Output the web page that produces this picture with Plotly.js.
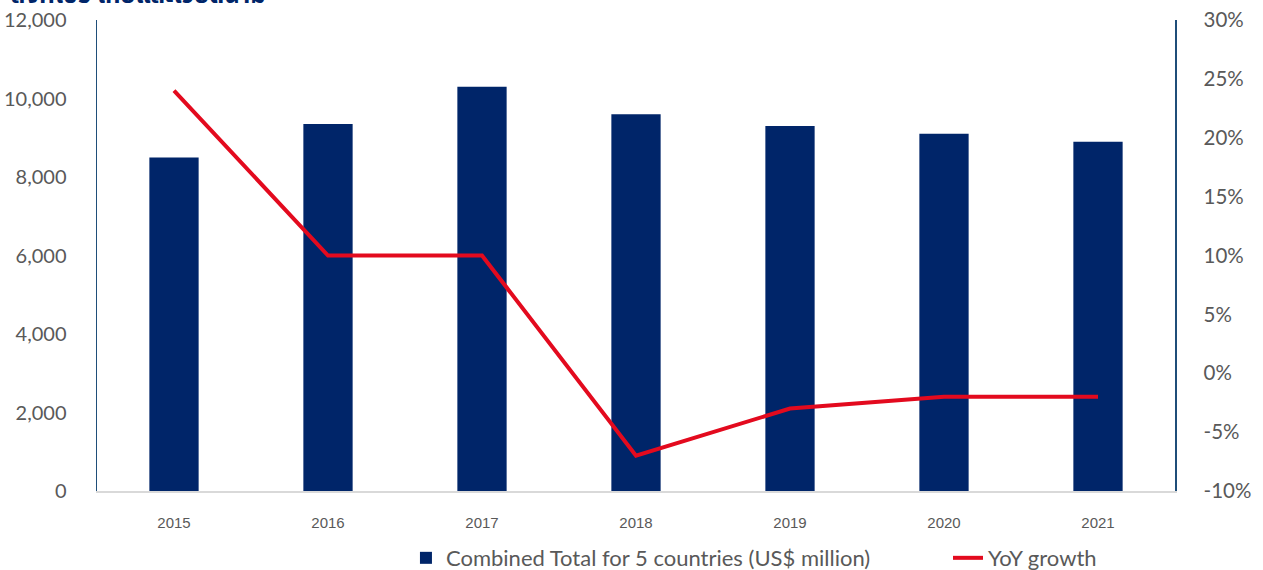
<!DOCTYPE html>
<html>
<head>
<meta charset="utf-8">
<script src="https://cdn.plot.ly/plotly-3.0.1.min.js"></script>
<style>html,body{margin:0;padding:0;background:#fff;}#chart{width:1263px;height:570px;}</style>
</head>
<body>
<div id="chart"></div>
<script>
const years = ['2015','2016','2017','2018','2019','2020','2021'];
const combinedTotal = [8500, 9350, 10300, 9600, 9300, 9100, 8900];
const yoyGrowth = [0.24, 0.10, 0.10, -0.07, -0.03, -0.02, -0.02];
const growthTicks = [-0.10, -0.05, 0, 0.05, 0.10, 0.15, 0.20, 0.25, 0.30];
const growthTickText = ['-10%', '-5%', '0%', '5%', '10%', '15%', '20%', '25%', '30%'];
const barName = 'Combined Total for 5 countries (US$ million)';
const lineName = 'YoY growth';
const titleText = 'สิงคโปร์ ไทยและเวียดนาม';

const traces = [
  {type:'bar', x:years, y:combinedTotal, name:barName, marker:{color:'#002569'}, width:0.32, yaxis:'y', legend:'legend'},
  {type:'scatter', mode:'lines', x:years, y:yoyGrowth, name:lineName, line:{color:'#E30A1E', width:4}, yaxis:'y2', legend:'legend2'}
];

const legendFont = {family:'Lato, Open Sans, sans-serif', size:22, color:'#595959'};
const layout = {
  width:1263, height:570,
  margin:{l:97, r:88, t:20, b:79, autoexpand:false},
  paper_bgcolor:'#fff', plot_bgcolor:'#fff',
  showlegend:true,
  legend:{orientation:'h', x:0.2866, xanchor:'left', xref:'paper', y:0.021, yref:'container', yanchor:'middle',
    bgcolor:'rgba(0,0,0,0)', font:legendFont},
  legend2:{orientation:'h', x:0.7894, xanchor:'left', xref:'paper', y:0.021, yref:'container', yanchor:'middle',
    bgcolor:'rgba(0,0,0,0)', font:legendFont},
  xaxis:{type:'category', showgrid:false, showline:true, linecolor:'#D9D9D9', linewidth:2,
    ticks:'', ticklabelstandoff:17, tickfont:{family:'Liberation Sans, Arial, sans-serif', size:15, color:'#595959'}},
  yaxis:{range:[0,12000], dtick:2000, tickformat:',d', showgrid:false, zeroline:false,
    showline:true, linecolor:'#1F4E79', linewidth:1.5, ticks:'', ticklabelstandoff:25,
    tickfont:{family:'Lato, Open Sans, sans-serif', size:20, color:'#595959'}},
  yaxis2:{overlaying:'y', side:'right', range:[-0.1,0.3], tickmode:'array', tickvals:growthTicks, ticktext:growthTickText,
    showgrid:false, zeroline:false,
    showline:true, linecolor:'#1F4E79', linewidth:1.5, ticks:'', ticklabelstandoff:23,
    tickfont:{family:'Lato, Open Sans, sans-serif', size:20.5, color:'#595959'}},
  annotations:[{text:'<b>'+titleText+'</b>', xref:'paper', yref:'paper', x:0.159, y:1, xanchor:'right', yanchor:'bottom',
    yshift:4, showarrow:false, font:{family:'Noto Sans Thai, Noto Sans, sans-serif', size:24, color:'#002569'}}]
};

Plotly.newPlot('chart', traces, layout, {displayModeBar:false, staticPlot:true});
</script>
</body>
</html>
